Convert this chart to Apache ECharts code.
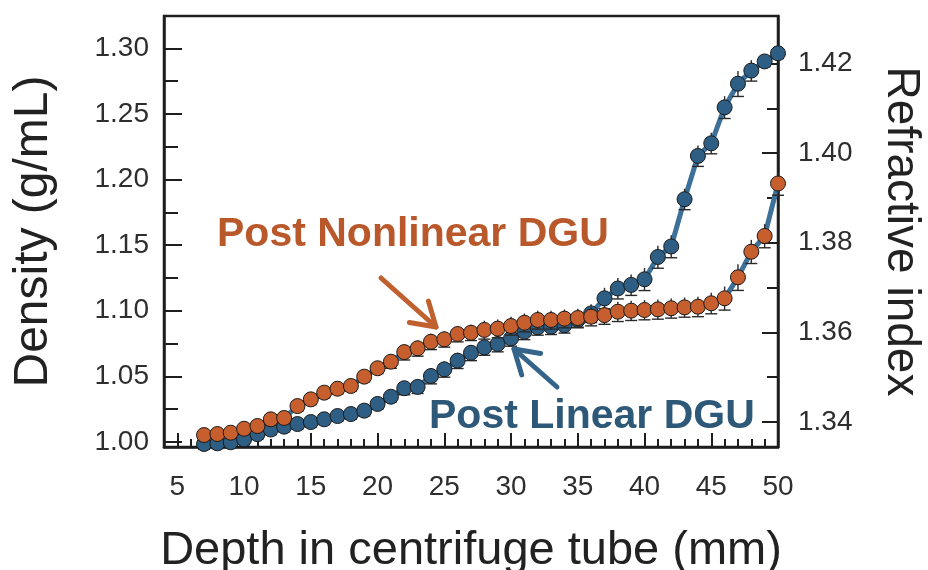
<!DOCTYPE html>
<html>
<head>
<meta charset="utf-8">
<script src="https://cdn.jsdelivr.net/npm/echarts@6/dist/echarts.min.js"></script>
<style>html,body{margin:0;padding:0;background:#fff}#c{width:928px;height:570px}</style>
</head>
<body>
<div id="c"></div>
<script>
// ---- data ----
const depth = [7,8,9,10,11,12,13,14,15,16,17,18,19,20,21,22,23,24,25,26,27,28,29,30,31,32,33,34,35,36,37,38,39,40,41,42,43,44,45,46,47,48,49,50];
const nonlinearDGU = [1.0053,1.0061,1.0071,1.0101,1.0122,1.0173,1.0183,1.0274,1.0325,1.0376,1.0406,1.0427,1.0498,1.0562,1.0612,1.0685,1.0714,1.0764,1.0783,1.0823,1.0833,1.0854,1.0864,1.0884,1.0909,1.0930,1.0930,1.0940,1.0945,1.0955,1.0967,1.0993,1.1001,1.1006,1.1011,1.1019,1.1026,1.1031,1.1057,1.1095,1.1255,1.1450,1.1570,1.1970];
const linearDGU = [0.9985,0.9990,0.9998,1.0020,1.0060,1.0095,1.0117,1.0137,1.0152,1.0173,1.0198,1.0213,1.0239,1.0290,1.0345,1.0410,1.0420,1.0503,1.0554,1.0620,1.0680,1.0721,1.0747,1.0790,1.0840,1.0874,1.0879,1.0890,1.0930,1.0980,1.1095,1.1170,1.1197,1.1240,1.1410,1.1490,1.1850,1.2180,1.2276,1.2550,1.2730,1.2830,1.2900,1.2962];
const nonlinearErr = [0.004,0.004,0.004,0.004,0.004,0.004,0.004,0.004,0.004,0.004,0.004,0.004,0.004,0.004,0.005,0.006,0.006,0.006,0.006,0.006,0.006,0.007,0.007,0.007,0.007,0.007,0.007,0.007,0.007,0.007,0.007,0.0075,0.0075,0.0075,0.0075,0.0075,0.0075,0.0076,0.008,0.009,0.010,0.009,0.009,0.009];
const linearErr = [0.004,0.004,0.004,0.004,0.004,0.004,0.004,0.004,0.004,0.004,0.004,0.004,0.004,0.004,0.004,0.005,0.005,0.006,0.006,0.006,0.006,0.006,0.006,0.006,0.006,0.006,0.006,0.006,0.006,0.007,0.008,0.008,0.008,0.0086,0.0086,0.0086,0.008,0.008,0.008,0.0085,0.0097,0.008,0.004,0.004];
const xTickLabels = [5,10,15,20,25,30,35,40,45,50];
const xMinorTicks = [5,6,7,8,9,10,11,12,13,14,15,16,17,18,19,20,21,22,23,24,25,26,27,28,29,30,31,32,33,34,35,36,37,38,39,40,41,42,43,44,45,46,47,48,49,50];
const densityTickLabels = [1.00,1.05,1.10,1.15,1.20,1.25,1.30];
const densityMinorTicks = [1.025,1.075,1.125,1.175,1.225,1.275];
const refractiveTickLabels = [1.34,1.36,1.38,1.40,1.42];
const refractiveMinorTicks = [1.35,1.37,1.39,1.41];

const FONT = 'Liberation Sans, Arial, Helvetica, sans-serif';
const BLUE = '#2E5E83', ORANGE = '#C65F2D', LINE = '#3D719A';
const TXT = '#2e2e2e';

const chart = echarts.init(document.getElementById('c'));

function pairs(xs, ys){ return xs.map((x,i)=>[x, ys[i]]); }
function errData(xs, ys, es){ return xs.map((x,i)=>[x, ys[i], es[i]]); }
function errRender(params, api){
  const x = api.value(0), y = api.value(1), e = api.value(2);
  const p0 = api.coord([x, y]);
  const p1 = api.coord([x, y - e]);
  const p2 = api.coord([x, y + e]);
  const w = 6;
  const st = {stroke:'#2a2a2a', lineWidth:1.4};
  return {type:'group', children:[
    {type:'line', shape:{x1:p0[0], y1:p2[1], x2:p0[0], y2:p1[1]}, style:st},
    {type:'line', shape:{x1:p0[0]-w, y1:p1[1], x2:p0[0]+w, y2:p1[1]}, style:st}
  ]};
}
function arrow(tail, tip, color){
  const dx = tail[0]-tip[0], dy = tail[1]-tip[1];
  const L = Math.hypot(dx,dy), ux = dx/L, uy = dy/L;
  const a = 32*Math.PI/180, len = 27;
  const w1 = [tip[0] + len*(ux*Math.cos(a) - uy*Math.sin(a)), tip[1] + len*(ux*Math.sin(a) + uy*Math.cos(a))];
  const w2 = [tip[0] + len*(ux*Math.cos(-a) - uy*Math.sin(-a)), tip[1] + len*(ux*Math.sin(-a) + uy*Math.cos(-a))];
  const st = {stroke:color, lineWidth:5, lineCap:'round', lineJoin:'round', fill:null};
  return [
    {type:'polyline', shape:{points:[tail, tip]}, style:st, z:100},
    {type:'polyline', shape:{points:[w1, tip, w2]}, style:st, z:100}
  ];
}

const baseX = {type:'value', min:4, max:50, gridIndex:0, splitLine:{show:false}};
const baseY = {type:'value', gridIndex:0, splitLine:{show:false}};

const option = {
  animation:false,
  backgroundColor:'#ffffff',
  grid:{left:164, right:150, top:16, bottom:123, containLabel:false, outerBoundsMode:'none',
    show:true, borderColor:'#1e1e1e', borderWidth:2.5, backgroundColor:'transparent'},
  xAxis:[
    Object.assign({}, baseX, {
      position:'bottom',
      name:'Depth in centrifuge tube (mm)', nameLocation:'middle', nameGap:81,
      nameTextStyle:{fontFamily:FONT, fontSize:47, color:'#222'},
      axisLine:{show:true, lineStyle:{color:'#1e1e1e', width:2.5}},
      axisTick:{show:true, inside:true, length:14, customValues:xTickLabels, lineStyle:{color:'#1e1e1e', width:2}},
      axisLabel:{show:true, customValues:xTickLabels, margin:26, fontFamily:FONT, fontSize:28, color:TXT}
    }),
    Object.assign({}, baseX, {
      position:'bottom',
      axisLine:{show:false},
      axisTick:{show:true, inside:true, length:8, customValues:xMinorTicks, lineStyle:{color:'#1e1e1e', width:2}},
      axisLabel:{show:false}
    })
  ],
  yAxis:[
    Object.assign({}, baseY, {
      position:'left', min:0.9962, max:1.3246,
      name:'Density (g/mL)', nameLocation:'middle', nameGap:106, nameRotate:90,
      nameTextStyle:{fontFamily:FONT, fontSize:48, color:'#222'},
      axisLine:{show:true, lineStyle:{color:'#1e1e1e', width:2.5}},
      axisTick:{show:true, inside:true, length:18, customValues:densityTickLabels, lineStyle:{color:'#1e1e1e', width:2}},
      axisLabel:{show:true, customValues:densityTickLabels, margin:15, fontFamily:FONT, fontSize:28, color:TXT,
        formatter:v=>v.toFixed(2)}
    }),
    Object.assign({}, baseY, {
      position:'left', min:0.9962, max:1.3246,
      axisLine:{show:false},
      axisTick:{show:true, inside:true, length:14, customValues:densityMinorTicks, lineStyle:{color:'#1e1e1e', width:2}},
      axisLabel:{show:false}
    }),
    Object.assign({}, baseY, {
      position:'right', min:1.3344, max:1.4306,
      name:'Refractive index', nameLocation:'middle', nameGap:100, nameRotate:-90,
      nameTextStyle:{fontFamily:FONT, fontSize:46, color:'#222'},
      axisLine:{show:true, lineStyle:{color:'#1e1e1e', width:2.5}},
      axisTick:{show:true, inside:true, length:16, customValues:refractiveTickLabels, lineStyle:{color:'#1e1e1e', width:2}},
      axisLabel:{show:true, customValues:refractiveTickLabels, margin:20, fontFamily:FONT, fontSize:28, color:TXT,
        formatter:v=>v.toFixed(2)}
    }),
    Object.assign({}, baseY, {
      position:'right', min:1.3344, max:1.4306,
      axisLine:{show:false},
      axisTick:{show:true, inside:true, length:11, customValues:refractiveMinorTicks, lineStyle:{color:'#1e1e1e', width:2}},
      axisLabel:{show:false}
    })
  ],
  series:[
    {name:'Post Linear DGU line', type:'line', data:pairs(depth, linearDGU), showSymbol:false, z:1,
      lineStyle:{color:LINE, width:5}, xAxisIndex:0, yAxisIndex:0},
    {name:'Post Nonlinear DGU line', type:'line', data:pairs(depth, nonlinearDGU), showSymbol:false, z:1,
      lineStyle:{color:LINE, width:5}, xAxisIndex:0, yAxisIndex:0},
    {name:'Linear err', type:'custom', renderItem:errRender, data:errData(depth, linearDGU, linearErr), z:2,
      xAxisIndex:0, yAxisIndex:0, encode:{x:0, y:1}},
    {name:'Post Linear DGU', type:'scatter', data:pairs(depth, linearDGU), symbolSize:15, z:3,
      itemStyle:{color:BLUE, borderColor:'#1b1b1b', borderWidth:1, opacity:1}, xAxisIndex:0, yAxisIndex:0},
    {name:'Nonlinear err', type:'custom', renderItem:errRender, data:errData(depth, nonlinearDGU, nonlinearErr), z:4,
      xAxisIndex:0, yAxisIndex:0, encode:{x:0, y:1}},
    {name:'Post Nonlinear DGU', type:'scatter', data:pairs(depth, nonlinearDGU), symbolSize:15, z:5,
      itemStyle:{color:ORANGE, borderColor:'#1b1b1b', borderWidth:1, opacity:1}, xAxisIndex:0, yAxisIndex:0}
  ],
  graphic:[
    {type:'text', left:217, top:214, z:100, style:{text:'Post Nonlinear DGU', fontFamily:FONT, fontWeight:'bold', fontSize:41, fill:'#B9582B'}},
    {type:'text', left:429, top:396, z:100, style:{text:'Post Linear DGU', fontFamily:FONT, fontWeight:'bold', fontSize:41, fill:'#2D5878'}},
    ...arrow([381,278],[436,327],'#C0602F'),
    ...arrow([557,387],[514,349],'#34648A')
  ]
};
chart.setOption(option);
</script>
</body>
</html>
